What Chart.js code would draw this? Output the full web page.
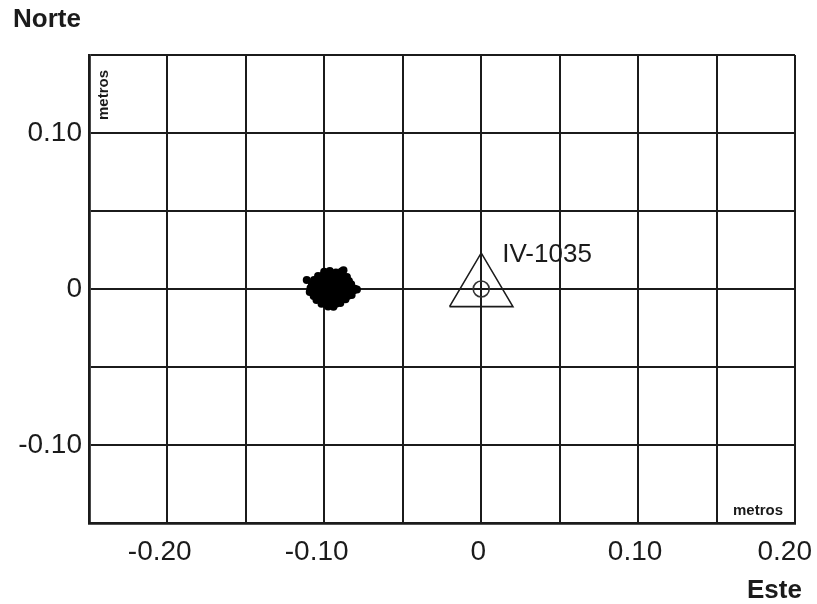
<!DOCTYPE html>
<html>
<head>
<meta charset="utf-8">
<title>IV-1035</title>
<script src="https://cdn.jsdelivr.net/npm/chart.js@4.4.0/dist/chart.umd.min.js"></script>
<style>
  body { margin: 0; background: #fff; }
  canvas { display: block; }
</style>
</head>
<body>
<canvas id="chart" width="817" height="604"></canvas>
<script>
// posiciones (metros) de la antena
const clusterEast = [
  -0.1001, -0.0965, -0.0926, -0.0890, -0.0878,
  -0.1040, -0.1010, -0.0975, -0.0946, -0.0913, -0.0881, -0.0856,
  -0.1066, -0.1031, -0.1002, -0.0970, -0.0938, -0.0904, -0.0875, -0.0843,
  -0.1079, -0.1047, -0.1013, -0.0983, -0.0951, -0.0917, -0.0887, -0.0853, -0.0829,
  -0.1088, -0.1058, -0.1028, -0.0994, -0.0962, -0.0932, -0.0898, -0.0868, -0.0834, -0.0806,
  -0.1093, -0.1063, -0.1033, -0.1001, -0.0968, -0.0939, -0.0905, -0.0872, -0.0842, -0.0812, -0.0792,
  -0.1068, -0.1040, -0.1008, -0.0977, -0.0944, -0.0913, -0.0880, -0.0848, -0.0826,
  -0.1050, -0.1021, -0.0988, -0.0957, -0.0925, -0.0894, -0.0865,
  -0.1018, -0.0988, -0.0957, -0.0925, -0.0898,
  -0.0976, -0.0942,
  -0.1112
];
const clusterNorth = [
  0.0110, 0.0116, 0.0106, 0.0112, 0.0120,
  0.0083, 0.0087, 0.0081, 0.0086, 0.0080, 0.0084, 0.0077,
  0.0058, 0.0055, 0.0060, 0.0057, 0.0054, 0.0059, 0.0056, 0.0052,
  0.0032, 0.0029, 0.0034, 0.0031, 0.0033, 0.0030, 0.0035, 0.0028, 0.0031,
  0.0006, 0.0004, 0.0008, 0.0005, 0.0007, 0.0003, 0.0006, 0.0009, 0.0004, 0.0002,
  -0.0019, -0.0022, -0.0017, -0.0020, -0.0018, -0.0021, -0.0016, -0.0019, -0.0014, -0.0008, -0.0004,
  -0.0045, -0.0042, -0.0047, -0.0044, -0.0046, -0.0041, -0.0045, -0.0043, -0.0039,
  -0.0070, -0.0073, -0.0068, -0.0071, -0.0069, -0.0072, -0.0066,
  -0.0094, -0.0097, -0.0094, -0.0095, -0.0090,
  -0.0112, -0.0114,
  0.0058
];
const stationName = "IV-1035";
const stationEast = [0];
const stationNorth = [0];
const triangleEast = [-0.0202, 0, 0.0202, -0.0202];
const triangleNorth = [-0.0113, 0.0231, -0.0113, -0.0113];
const eastTicks = [-0.20, -0.10, 0, 0.10, 0.20];
const eastTickLabels = ["-0.20", "-0.10", "0", "0.10", "0.20"];
const northTicks = [0.10, 0, -0.10];
const northTickLabels = ["0.10", "0", "-0.10"];

const ink = "#1b1b1b";
const fontFamily = "'Liberation Sans', Arial, sans-serif";

const toPoints = (xs, ys) => xs.map((x, i) => ({ x: x, y: ys[i] }));

const textPlugin = {
  id: "textos",
  afterDraw(chart) {
    const ctx = chart.ctx;
    const xs = chart.scales.x;
    const ys = chart.scales.y;
    ctx.save();
    ctx.fillStyle = ink;

    // etiquetas del eje Este
    ctx.font = "28px " + fontFamily;
    ctx.textBaseline = "alphabetic";
    eastTicks.forEach((v, i) => {
      const label = eastTickLabels[i];
      const num = label.replace("-", "");
      const w = ctx.measureText(num).width;
      let left = xs.getPixelForValue(v) - 3 - w / 2;
      if (left + w > chart.width - 5) left = chart.width - 5 - w;
      ctx.textAlign = "left";
      ctx.fillText(num, left, 560);
      if (label.startsWith("-")) {
        ctx.textAlign = "right";
        ctx.fillText("-", left, 560);
      }
    });

    // titulos de ejes
    ctx.font = "bold 26px " + fontFamily;
    ctx.textAlign = "left";
    ctx.fillText("Norte", 13, 27);
    ctx.fillText("Este", 747, 598);

    // unidades
    ctx.font = "bold 15px " + fontFamily;
    ctx.textAlign = "center";
    ctx.textBaseline = "middle";
    ctx.fillText("metros", 758, 511);
    ctx.save();
    ctx.translate(104, 95);
    ctx.rotate(-Math.PI / 2);
    ctx.fillText("metros", 0, 0);
    ctx.restore();

    // nombre de la estacion
    ctx.font = "26px " + fontFamily;
    ctx.textAlign = "left";
    ctx.textBaseline = "alphabetic";
    ctx.fillText(stationName, xs.getPixelForValue(stationEast[0]) + 21, ys.getPixelForValue(stationNorth[0]) - 27);
    ctx.restore();
  }
};

new Chart(document.getElementById("chart").getContext("2d"), {
  type: "scatter",
  data: {
    datasets: [
      {
        label: "antena",
        data: toPoints(clusterEast, clusterNorth),
        pointRadius: 4,
        pointBorderWidth: 0,
        backgroundColor: "#000",
        borderColor: "#000"
      },
      {
        label: "vertice",
        data: toPoints(triangleEast, triangleNorth),
        showLine: true,
        pointRadius: 0,
        borderColor: ink,
        borderWidth: 1.6,
        fill: false
      },
      {
        label: stationName,
        data: toPoints(stationEast, stationNorth),
        pointRadius: 8,
        pointBorderWidth: 1.6,
        backgroundColor: "rgba(0,0,0,0)",
        borderColor: "#333"
      }
    ]
  },
  options: {
    responsive: false,
    animation: false,
    layout: { padding: { top: 55, right: 22, left: 0, bottom: 0 } },
    plugins: { legend: { display: false }, tooltip: { enabled: false } },
    scales: {
      x: {
        type: "linear",
        min: -0.25,
        max: 0.20,
        ticks: { display: false, stepSize: 0.05 },
        grid: { color: ink, lineWidth: 2, drawTicks: false },
        border: { color: ink, width: 2.8 },
        afterFit(scale) { scale.height = 81; }
      },
      y: {
        type: "linear",
        min: -0.15,
        max: 0.15,
        ticks: {
          stepSize: 0.05,
          padding: 7,
          color: ink,
          font: { family: fontFamily, size: 28 },
          callback(v) {
            const i = northTicks.findIndex(t => Math.abs(t - v) < 1e-6);
            return i >= 0 ? northTickLabels[i] : "";
          }
        },
        grid: { color: ink, lineWidth: 2, drawTicks: false },
        border: { color: ink, width: 2.8 },
        afterFit(scale) { scale.width = 89; }
      }
    }
  },
  plugins: [textPlugin]
});
</script>
</body>
</html>
